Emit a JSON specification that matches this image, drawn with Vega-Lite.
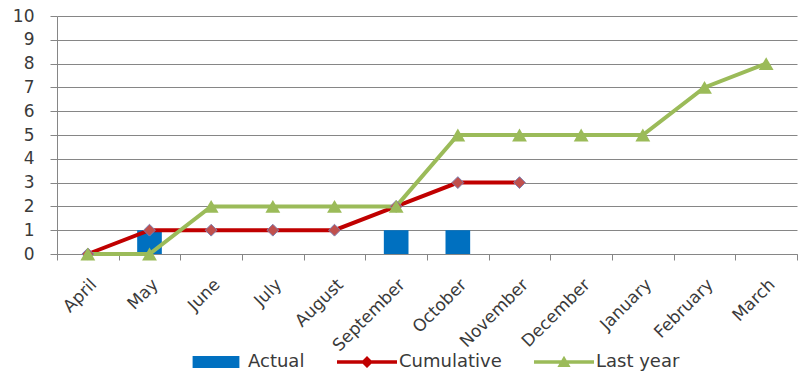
{
  "$schema": "https://vega.github.io/schema/vega-lite/v6.json",
  "width": 740,
  "height": 238,
  "autosize": {"type": "none"},
  "padding": {"left": 57, "top": 16, "right": 1, "bottom": 119},
  "background": "white",
  "config": {
    "view": {"stroke": null},
    "font": "DejaVu Sans"
  },
  "data": {
    "values": [
      {"month": "May", "series": "Actual", "value": 1},
      {"month": "September", "series": "Actual", "value": 1},
      {"month": "October", "series": "Actual", "value": 1},
      {"month": "April", "series": "Cumulative", "value": 0},
      {"month": "May", "series": "Cumulative", "value": 1},
      {"month": "June", "series": "Cumulative", "value": 1},
      {"month": "July", "series": "Cumulative", "value": 1},
      {"month": "August", "series": "Cumulative", "value": 1},
      {"month": "September", "series": "Cumulative", "value": 2},
      {"month": "October", "series": "Cumulative", "value": 3},
      {"month": "November", "series": "Cumulative", "value": 3},
      {"month": "April", "series": "Last year", "value": 0},
      {"month": "May", "series": "Last year", "value": 0},
      {"month": "June", "series": "Last year", "value": 2},
      {"month": "July", "series": "Last year", "value": 2},
      {"month": "August", "series": "Last year", "value": 2},
      {"month": "September", "series": "Last year", "value": 2},
      {"month": "October", "series": "Last year", "value": 5},
      {"month": "November", "series": "Last year", "value": 5},
      {"month": "December", "series": "Last year", "value": 5},
      {"month": "January", "series": "Last year", "value": 5},
      {"month": "February", "series": "Last year", "value": 7},
      {"month": "March", "series": "Last year", "value": 8}
    ]
  },
  "encoding": {
    "x": {
      "field": "month",
      "type": "nominal",
      "sort": ["April", "May", "June", "July", "August", "September", "October", "November", "December", "January", "February", "March"],
      "scale": {
        "domain": ["April", "May", "June", "July", "August", "September", "October", "November", "December", "January", "February", "March"],
        "paddingInner": 0,
        "paddingOuter": 0
      },
      "axis": {
        "title": null,
        "labelAngle": -45,
        "labelFontSize": 17,
        "labelColor": "#3A3A3A",
        "labelPadding": 16,
        "labelOverlap": false,
        "domainColor": "#868686",
        "tickColor": "#868686",
        "tickSize": 6,
        "tickBand": "extent",
        "grid": false
      }
    },
    "y": {
      "field": "value",
      "type": "quantitative",
      "scale": {"domain": [0, 10], "nice": false},
      "axis": {
        "title": null,
        "values": [0, 1, 2, 3, 4, 5, 6, 7, 8, 9, 10],
        "labelFontSize": 17,
        "labelColor": "#3A3A3A",
        "labelPadding": 16,
        "tickSize": 7,
        "tickColor": "#868686",
        "domainColor": "#868686",
        "grid": true,
        "gridColor": "#868686",
        "gridOpacity": 1
      }
    }
  },
  "layer": [
    {
      "transform": [{"filter": "datum.series === 'Actual'"}],
      "mark": {"type": "bar", "width": {"band": 0.4}},
      "encoding": {
        "color": {
          "field": "series",
          "type": "nominal",
          "scale": {
            "domain": ["Actual", "Cumulative", "Last year"],
            "range": ["#0070C0", "#C00000", "#9BBB59"]
          },
          "legend": {
            "title": null,
            "orient": "none",
            "legendX": 129,
            "legendY": 316,
            "direction": "horizontal",
            "padding": 0,
            "columnPadding": 32,
            "symbolSize": 3600,
            "labelOffset": 2,
            "labelFontSize": 18,
            "labelColor": "#3A3A3A",
            "labelLimit": 300,
            "encode": {
              "symbols": {
                "update": {
                  "shape": {"signal": "datum.value === 'Actual' ? 'M-0.78,-0.2H0.78V0.2H-0.78Z' : datum.value === 'Cumulative' ? 'M-1,-0.06H1V0.06H-1Z M-0.2,0L0,-0.2L0.2,0L0,0.2Z' : 'M-1,-0.06H1V0.06H-1Z M-0.22,0.17L0,-0.21L0.22,0.17Z'"},
                  "fill": {"signal": "datum.value === 'Actual' ? '#0070C0' : datum.value === 'Cumulative' ? '#C00000' : '#9BBB59'"},
                  "stroke": {"value": "transparent"},
                  "strokeWidth": {"value": 0},
                  "opacity": {"value": 1}
                }
              }
            }
          }
        }
      }
    },
    {
      "transform": [{"filter": "datum.series !== 'Actual'"}],
      "mark": {"type": "line", "strokeWidth": 4},
      "encoding": {
        "color": {"field": "series", "type": "nominal"}
      }
    },
    {
      "transform": [{"filter": "datum.series === 'Cumulative'"}],
      "mark": {"type": "point", "shape": "diamond", "size": 140, "filled": true, "fill": "#C0504D", "stroke": "#7F7FB0", "strokeWidth": 1, "opacity": 1}
    },
    {
      "transform": [{"filter": "datum.series === 'Last year'"}],
      "mark": {"type": "point", "shape": "triangle-up", "size": 220, "filled": true, "fill": "#9BBB59", "opacity": 1}
    }
  ]
}
